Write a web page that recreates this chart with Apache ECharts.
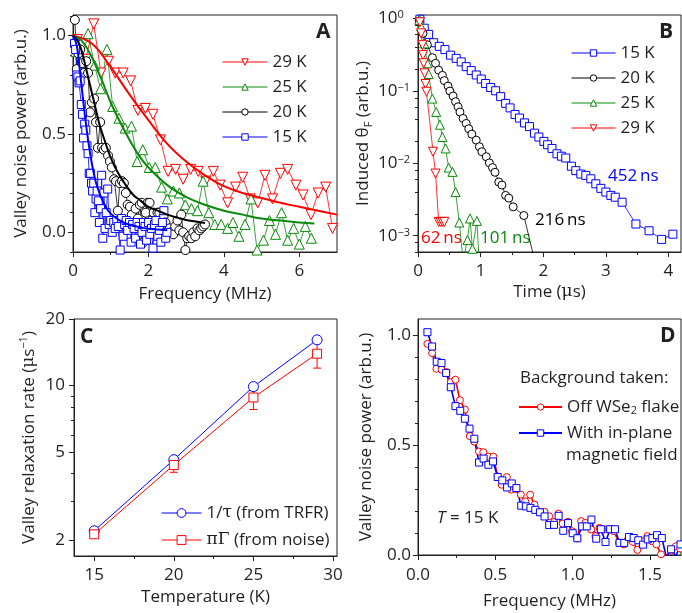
<!DOCTYPE html>
<html><head><meta charset="utf-8">
<script src="https://cdn.jsdelivr.net/npm/echarts@6/dist/echarts.min.js"></script>
<style>html,body{margin:0;padding:0;background:#fff}#c{width:682px;height:613px}</style>
</head><body><div id="c"></div><script>
// ---------- Panel A: valley noise spectra ----------
const A29 = [[0.12,0.98],[0.34,0.88],[0.55,1.06],[0.74,0.81],[0.94,0.87],[1.12,0.81],[1.33,0.81],[1.53,0.77],[1.72,0.62],[1.92,0.63],[2.12,0.60],[2.32,0.47],[2.52,0.31],[2.72,0.32],[2.92,0.27],[3.12,0.32],[3.32,0.31],[3.52,0.26],[3.72,0.31],[3.90,0.24],[4.10,0.15],[4.31,0.23],[4.50,0.28],[4.70,0.17],[4.90,0.15],[5.09,0.29],[5.29,0.17],[5.50,0.30],[5.69,0.32],[5.91,0.24],[6.10,0.19],[6.31,0.09],[6.50,0.20],[6.70,0.23],[6.88,0.02]];
const A25 = [[0.08,0.92],[0.24,0.88],[0.40,1.01],[0.57,0.85],[0.73,0.73],[0.90,0.93],[1.05,0.64],[1.22,0.58],[1.38,0.53],[1.55,0.54],[1.70,0.36],[1.85,0.42],[2.02,0.33],[2.18,0.33],[2.35,0.23],[2.50,0.17],[2.66,0.21],[2.82,0.20],[2.98,0.14],[3.14,0.12],[3.30,0.11],[3.45,0.26],[3.60,0.10],[3.76,0.04],[3.93,0.04],[4.10,0.02],[4.24,0.05],[4.40,-0.02],[4.56,0.04],[4.72,0.17],[4.88,-0.09],[5.05,-0.04],[5.21,0.06],[5.37,-0.01],[5.53,0.10],[5.69,-0.04],[5.85,0.02],[6.00,-0.06],[6.16,0.03],[6.32,-0.03]];
const A20 = [[0.05,1.08],[0.10,0.83],[0.14,0.91],[0.19,0.93],[0.24,0.86],[0.29,0.81],[0.35,0.87],[0.40,0.81],[0.45,0.61],[0.50,0.66],[0.56,0.68],[0.61,0.56],[0.66,0.43],[0.72,0.56],[0.77,0.43],[0.82,0.42],[0.87,0.43],[0.93,0.39],[0.98,0.36],[1.03,0.33],[1.09,0.27],[1.14,0.26],[1.19,0.11],[1.24,0.25],[1.30,0.26],[1.35,0.25],[1.40,0.20],[1.45,0.14],[1.51,0.13],[1.56,0.09],[1.61,0.03],[1.66,0.12],[1.72,0.07],[1.77,0.14],[1.82,0.15],[1.87,-0.05],[1.93,0.10],[1.98,0.15],[2.03,0.15],[2.08,0.06],[2.14,0.10],[2.19,0.04],[2.24,0.10],[2.29,0.10],[2.35,0.03],[2.40,0.08],[2.45,0.05],[2.50,0.00],[2.56,0.02],[2.61,0.00],[2.66,-0.01],[2.71,0.03],[2.77,0.06],[2.82,0.01],[2.87,0.09],[2.92,0.00],[2.98,-0.09],[3.03,-0.03],[3.08,-0.02],[3.14,-0.03],[3.19,0.00],[3.24,-0.02],[3.30,0.02],[3.35,0.01],[3.40,0.02],[3.45,0.03],[3.50,0.04]];
const A15 = [[0.04,0.96],[0.07,0.93],[0.10,0.80],[0.13,0.79],[0.16,0.76],[0.19,0.77],[0.22,0.65],[0.25,0.60],[0.28,0.48],[0.31,0.55],[0.34,0.52],[0.37,0.44],[0.40,0.40],[0.43,0.30],[0.46,0.30],[0.49,0.25],[0.52,0.21],[0.55,0.25],[0.58,0.10],[0.61,0.17],[0.64,0.21],[0.67,0.16],[0.70,0.05],[0.73,0.12],[0.76,0.29],[0.79,-0.03],[0.82,0.20],[0.85,0.02],[0.88,0.10],[0.92,0.22],[0.96,0.04],[1.00,0.06],[1.04,0.00],[1.08,0.05],[1.12,0.02],[1.16,0.06],[1.20,0.03],[1.25,-0.09],[1.29,0.07],[1.33,-0.02],[1.37,0.04],[1.41,0.06],[1.45,0.01],[1.50,0.05],[1.54,-0.05],[1.58,0.04],[1.62,0.02],[1.66,-0.03],[1.70,0.05],[1.75,0.03],[1.79,-0.06],[1.83,0.00],[1.87,0.05],[1.91,0.03],[1.95,-0.04],[2.00,0.05],[2.04,-0.01],[2.08,0.02],[2.12,-0.08],[2.16,0.04],[2.20,0.06],[2.25,-0.02],[2.29,0.01],[2.33,-0.05],[2.37,0.05],[2.41,0.11],[2.46,-0.03],[2.49,0.00]];
const fitA29 = [[0,1.0],[0.5,0.96],[1,0.84],[1.5,0.70],[2,0.57],[2.5,0.45],[3,0.36],[3.5,0.29],[4,0.235],[4.5,0.20],[5,0.175],[5.5,0.15],[6,0.13],[6.5,0.11],[7,0.09]];
const fitA25 = [[0,1.0],[0.25,0.97],[0.5,0.89],[0.75,0.78],[1,0.66],[1.25,0.56],[1.5,0.47],[1.75,0.39],[2,0.33],[2.5,0.24],[3,0.18],[3.5,0.14],[4,0.11],[4.5,0.09],[5,0.07],[5.5,0.06],[6,0.05],[6.4,0.045]];
const fitA20 = [[0,1.0],[0.1,0.98],[0.2,0.94],[0.3,0.87],[0.4,0.79],[0.5,0.71],[0.6,0.63],[0.7,0.55],[0.8,0.49],[1.0,0.38],[1.2,0.30],[1.4,0.24],[1.6,0.19],[1.8,0.16],[2.0,0.13],[2.25,0.11],[2.5,0.09],[2.75,0.075],[3.0,0.063],[3.25,0.055],[3.5,0.047]];
const fitA15 = [[0,1.0],[0.1,0.95],[0.2,0.79],[0.3,0.62],[0.4,0.47],[0.5,0.35],[0.6,0.26],[0.7,0.20],[0.8,0.155],[0.9,0.12],[1.0,0.095],[1.2,0.065],[1.4,0.045],[1.6,0.033],[1.8,0.025],[2.0,0.018],[2.25,0.014],[2.5,0.01]];
// ---------- Panel B: time-resolved Faraday rotation ----------
const B15 = [[0.03,0.97],[0.10,0.73],[0.17,0.60],[0.25,0.46],[0.34,0.41],[0.43,0.37],[0.52,0.31],[0.61,0.28],[0.69,0.25],[0.77,0.215],[0.85,0.19],[0.93,0.165],[1.01,0.145],[1.08,0.126],[1.16,0.111],[1.24,0.10],[1.32,0.083],[1.40,0.067],[1.47,0.058],[1.55,0.047],[1.62,0.042],[1.70,0.036],[1.78,0.032],[1.86,0.026],[1.93,0.023],[2.01,0.020],[2.07,0.018],[2.14,0.016],[2.22,0.0135],[2.29,0.0125],[2.36,0.0118],[2.45,0.0091],[2.52,0.0079],[2.60,0.0071],[2.68,0.0068],[2.76,0.0061],[2.84,0.0052],[2.92,0.0045],[3.00,0.0040],[3.08,0.0036],[3.15,0.0034],[3.26,0.0029],[3.48,0.00145],[3.69,0.00117],[3.89,0.00089],[4.07,0.00105]];
const B20 = [[0.02,0.92],[0.08,0.62],[0.15,0.43],[0.23,0.286],[0.28,0.239],[0.33,0.193],[0.39,0.163],[0.42,0.138],[0.48,0.116],[0.51,0.099],[0.56,0.0845],[0.60,0.0706],[0.64,0.0601],[0.67,0.0508],[0.72,0.0415],[0.77,0.0354],[0.81,0.0299],[0.86,0.0252],[0.93,0.0208],[0.98,0.0169],[1.02,0.0144],[1.09,0.0123],[1.14,0.0101],[1.19,0.0087],[1.23,0.0075],[1.29,0.0055],[1.34,0.0050],[1.40,0.0036],[1.45,0.0033],[1.52,0.0025],[1.69,0.0019],[1.87,0.00043]];
const B25 = [[0.02,0.95],[0.05,0.77],[0.10,0.45],[0.15,0.24],[0.17,0.17],[0.23,0.078],[0.29,0.051],[0.35,0.034],[0.39,0.023],[0.44,0.016],[0.49,0.0087],[0.55,0.0076],[0.60,0.0040],[0.66,0.00152],[0.72,0.00045],[0.79,0.00087],[0.83,0.00173],[0.87,0.00066],[0.94,0.0016],[0.98,0.0004]];
const B29 = [[0.03,0.88],[0.05,0.62],[0.07,0.43],[0.08,0.31],[0.09,0.24],[0.105,0.174],[0.12,0.124],[0.135,0.097],[0.24,0.0144],[0.28,0.0072],[0.33,0.00155],[0.36,0.00155],[0.39,0.00155],[0.42,0.00155]];
// ---------- Panel C: relaxation rates ----------
const C_T = [15, 20, 25, 29];
const C_tau = [2.21, 4.63, 9.90, 16.1];
const C_noise = [2.13, 4.38, 8.84, 13.94];
const C_errLo = [2.06, 4.06, 7.8, 12.0];
const C_errHi = [2.20, 4.72, 9.5, 15.8];
// ---------- Panel D: background comparison ----------
const D_off = [[0.061,0.959],[0.091,0.917],[0.119,0.846],[0.152,0.842],[0.184,0.831],[0.212,0.786],[0.242,0.796],[0.271,0.703],[0.303,0.661],[0.335,0.540],[0.364,0.515],[0.394,0.470],[0.422,0.467],[0.455,0.447],[0.487,0.447],[0.515,0.357],[0.541,0.319],[0.574,0.354],[0.602,0.297],[0.633,0.300],[0.665,0.274],[0.693,0.244],[0.725,0.274],[0.753,0.229],[0.790,0.196],[0.818,0.196],[0.848,0.176],[0.879,0.150],[0.909,0.188],[0.935,0.143],[0.970,0.151],[0.996,0.108],[1.028,0.075],[1.054,0.154],[1.082,0.146],[1.119,0.116],[1.147,0.086],[1.173,0.123],[1.208,0.116],[1.234,0.116],[1.266,0.108],[1.299,0.056],[1.331,0.048],[1.359,0.074],[1.390,0.059],[1.418,0.023],[1.446,0.063],[1.483,0.086],[1.511,0.063],[1.541,0.048],[1.571,0.003],[1.608,-0.005],[1.636,0.020],[1.667,0.040],[1.695,0.029]];
const D_mag = [[0.061,1.012],[0.091,0.947],[0.121,0.878],[0.152,0.872],[0.182,0.827],[0.212,0.762],[0.242,0.676],[0.273,0.655],[0.303,0.619],[0.333,0.574],[0.364,0.528],[0.394,0.420],[0.424,0.438],[0.455,0.410],[0.485,0.425],[0.515,0.354],[0.545,0.339],[0.576,0.307],[0.606,0.325],[0.636,0.304],[0.667,0.224],[0.697,0.221],[0.727,0.214],[0.758,0.205],[0.788,0.194],[0.818,0.175],[0.848,0.136],[0.879,0.137],[0.909,0.178],[0.939,0.110],[0.970,0.145],[1.000,0.099],[1.030,0.076],[1.061,0.130],[1.091,0.130],[1.121,0.161],[1.152,0.074],[1.182,0.117],[1.212,0.059],[1.242,0.117],[1.273,0.117],[1.303,0.055],[1.333,0.055],[1.364,0.082],[1.394,0.077],[1.424,0.067],[1.455,0.047],[1.485,0.071],[1.515,0.077],[1.545,0.090],[1.576,0.077],[1.606,-0.010],[1.636,0.026],[1.667,-0.005],[1.697,0.048]];
// ---------- Tick values ----------
const xA_ticks=[0,2,4,6], xA_minor=[1,3,5];
const yA_ticks=[0,0.5,1.0], yA_minor=[-0.1,0.1,0.2,0.3,0.4,0.6,0.7,0.8,0.9,1.1];
const xB_ticks=[0,1,2,3,4], xB_minor=[0.5,1.5,2.5,3.5];
const yB_ticks=[0.001,0.01,0.1,1], yB_minor=[0.0006,0.0008,0.002,0.004,0.006,0.008,0.02,0.04,0.06,0.08,0.2,0.4,0.6,0.8];
const xC_ticks=[15,20,25,30], xC_minor=[17.5,22.5,27.5];
const yC_ticks=[2,5,10,20], yC_minor=[3,4,6,7,8,9];
const xD_ticks=[0,0.5,1.0,1.5], xD_minor=[0.25,0.75,1.25];
const yD_ticks=[0,0.5,1.0], yD_minor=[0.1,0.2,0.3,0.4,0.6,0.7,0.8,0.9];

const FONT = "'Open Sans', sans-serif";
const TXT = '#231f20';
const RED='#ff0000', GREEN='#0a8a0a', BLACK='#000000', BLUE='#0000ff';
const names = {A29:'29 K',A25:'25 K',A20:'20 K',A15:'15 K',B15:'15 K',B20:'20 K',B25:'25 K',B29:'29 K'};

const chart = echarts.init(document.getElementById('c'), null, {renderer:'canvas'});
const grids = [
  {left:73, top:15, width:264, height:237},
  {left:418, top:15, width:263, height:237},
  {left:74, top:319, width:263, height:237},
  {left:418, top:319, width:263, height:237}
].map(g => Object.assign(g, {show:true, borderColor:'#222', borderWidth:1, backgroundColor:'transparent'}));

const lab = {fontSize:17, fontFamily:FONT, color:TXT};
const rich = {
  sup:{fontSize:11, fontFamily:FONT, color:TXT, verticalAlign:'top', lineHeight:11},
  sub:{fontSize:11, fontFamily:FONT, color:TXT, verticalAlign:'bottom', lineHeight:11},
  g:{fontSize:17, fontFamily:"'DejaVu Serif', serif", color:TXT, lineHeight:22}
};
function majorAxis(dim, gi, type, min, max, ticks, fmt, name, nameGap, margin, extra) {
  const a = {
    type, gridIndex:gi, min, max, position: dim==='x'?'bottom':'left',
    axisLine:{show:true, onZero:false, lineStyle:{color:'#222', width:1}},
    axisTick:{show:true, customValues:ticks, length:5, lineStyle:{color:'#222', width:1}},
    minorTick:{show:false},
    axisLabel:Object.assign({customValues:ticks, formatter:fmt, margin, rich}, lab),
    splitLine:{show:false},
    name, nameLocation:'middle', nameGap,
    nameTextStyle:Object.assign({rich, lineHeight:22}, lab)
  };
  if (type==='log') a.logBase = 10;
  return Object.assign(a, extra||{});
}
function minorAxis(dim, gi, type, min, max, ticks) {
  const a = {
    type, gridIndex:gi, min, max, position: dim==='x'?'bottom':'left',
    axisLine:{show:false, onZero:false},
    axisTick:{show:true, customValues:ticks, length:3, lineStyle:{color:'#222', width:1}},
    axisLabel:{show:false}, splitLine:{show:false}
  };
  if (type==='log') a.logBase = 10;
  return a;
}
const f1 = v => v.toFixed(1);
const f0 = v => String(Math.round(v));
const fpow = v => { const e = Math.round(Math.log10(v)); return '10{sup|' + (e===0 ? '0' : '\u2212' + (-e)) + '}'; };

const xAxis = [
  majorAxis('x',0,'value',0,7,xA_ticks,f0,'Frequency (MHz)',31,11),
  majorAxis('x',1,'value',0,4.2,xB_ticks,f0,'Time ({g|\u03bc}s)',28,11),
  majorAxis('x',2,'value',13.73,30.25,xC_ticks,f0,'Temperature (K)',30,11),
  majorAxis('x',3,'value',0,1.7,xD_ticks,f1,'Frequency (MHz)',35,12),
  minorAxis('x',0,'value',0,7,xA_minor),
  minorAxis('x',1,'value',0,4.2,xB_minor),
  minorAxis('x',2,'value',13.73,30.25,xC_minor),
  minorAxis('x',3,'value',0,1.7,xD_minor)
];
const yAxis = [
  majorAxis('y',0,'value',-0.1,1.105,yA_ticks,f1,'Valley noise power (arb.u.)',41,7),
  majorAxis('y',1,'log',0.000596,1.11,yB_ticks,fpow,'Induced \u03b8{sub|F} (arb.u.)',40,40,{axisLabel:Object.assign({customValues:yB_ticks, formatter:fpow, margin:40, align:'left', rich:{sup:{fontSize:11,fontFamily:FONT,color:TXT,verticalAlign:'top',lineHeight:11}}}, lab)}),
  majorAxis('y',2,'log',1.70,20,yC_ticks,f0,'Valley relaxation rate ({g|\u03bc}s{sup|\u22121})',34,9),
  majorAxis('y',3,'value',0,1.072,yD_ticks,f1,'Valley noise power (arb.u.)',41,7),
  minorAxis('y',0,'value',-0.1,1.105,yA_minor),
  minorAxis('y',1,'log',0.000596,1.11,yB_minor),
  minorAxis('y',2,'log',1.70,20,yC_minor),
  minorAxis('y',3,'value',0,1.072,yD_minor)
];

function dataSeries(name, gi, data, color, symbol, size, rot, lw) {
  return {
    name, type:'line', xAxisIndex:gi, yAxisIndex:gi, data,
    symbol, symbolSize:size, symbolRotate:rot||0, showAllSymbol:true,
    itemStyle:{color:'#fff', borderColor:color, borderWidth:1},
    lineStyle:{color, width:lw||0.8}, emphasis:{disabled:true}, animation:false, clip:true
  };
}
function fitSeries(name, data, color) {
  return {name, type:'line', xAxisIndex:0, yAxisIndex:0, data, symbol:'none', smooth:0.4,
    lineStyle:{color, width:2}, emphasis:{disabled:true}, animation:false, z:4};
}

const series = [
  dataSeries('A29',0,A29,RED,'triangle',10,180),
  dataSeries('A25',0,A25,GREEN,'triangle',10,0),
  dataSeries('A20',0,A20,BLACK,'circle',9,0),
  dataSeries('A15',0,A15,BLUE,'rect',8,0),
  fitSeries('fit29',fitA29,RED), fitSeries('fit25',fitA25,GREEN),
  fitSeries('fit20',fitA20,BLACK), fitSeries('fit15',fitA15,BLUE),
  dataSeries('B15',1,B15,BLUE,'rect',8,0),
  dataSeries('B20',1,B20,BLACK,'circle',8,0),
  dataSeries('B25',1,B25,GREEN,'triangle',9,0),
  dataSeries('B29',1,B29,RED,'triangle',9,180),
  {name:'Cerr', type:'custom', xAxisIndex:2, yAxisIndex:2, z:1,
   data: C_T.map((t,i)=>[t, C_errLo[i], C_errHi[i]]),
   encode:{x:0, y:[1,2]},
   renderItem:(params, api)=>{
     const x=api.value(0), lo=api.coord([x, api.value(1)]), hi=api.coord([x, api.value(2)]);
     const st={stroke:RED, lineWidth:1}, w=4;
     return {type:'group', children:[
       {type:'line', shape:{x1:lo[0],y1:lo[1],x2:hi[0],y2:hi[1]}, style:st},
       {type:'line', shape:{x1:lo[0]-w,y1:lo[1],x2:lo[0]+w,y2:lo[1]}, style:st},
       {type:'line', shape:{x1:hi[0]-w,y1:hi[1],x2:hi[0]+w,y2:hi[1]}, style:st}]};
   }},
  dataSeries('Ctau',2,C_T.map((t,i)=>[t,C_tau[i]]),BLUE,'circle',10,0,1),
  dataSeries('Cnoise',2,C_T.map((t,i)=>[t,C_noise[i]]),RED,'rect',9,0,1),
  dataSeries('Doff',3,D_off,RED,'circle',7,0,1.6),
  dataSeries('Dmag',3,D_mag,BLUE,'rect',7,0,1.6)
];

const legendText = Object.assign({}, lab, {lineHeight:18, rich:Object.assign({}, rich, {g:{fontSize:17, fontFamily:"'DejaVu Serif', serif", color:TXT, lineHeight:18}, sub:{fontSize:11, fontFamily:FONT, color:TXT, verticalAlign:'bottom', lineHeight:9}})});
const cNames = {Ctau:'1/{g|\u03c4} (from TRFR)', Cnoise:'{g|\u03c0\u0393} (from noise)', Doff:'Off WSe{sub|2} flake', Dmag:'With in-plane'};
const fmtLegend = n => names[n] || cNames[n] || n;
function legend(data, left, top, itemWidth, itemHeight, itemGap, lw) {
  return {data, left, top, orient:'vertical', itemWidth, itemHeight, itemGap, selectedMode:false,
    formatter:fmtLegend, textStyle:legendText, padding:0,
    lineStyle:{width:lw}, itemStyle:{borderWidth:1}};
}

const gtext = (text, left, top, extra) => ({type:'text', left, top, silent:true,
  style:Object.assign({text, fill:TXT, font:"17px 'Open Sans', sans-serif"}, extra||{})});

chart.setOption({
  animation:false,
  backgroundColor:'#fff',
  grid:grids, xAxis, yAxis, series,
  legend:[
    legend(['A29','A25','A20','A15'], 222, 53, 45, 8, 7, 1),
    legend(['B15','B20','B25','B29'], 571, 44, 44, 8, 7, 1),
    legend(['Ctau','Cnoise'], 161, 504, 40, 11, 9, 1),
    legend(['Doff','Dmag'], 518, 398, 43, 8, 8, 2)
  ],
  graphic:[
    gtext('A', 316, 22, {font:"bold 21px 'Open Sans', sans-serif"}),
    gtext('B', 659, 22, {font:"bold 21px 'Open Sans', sans-serif"}),
    gtext('C', 80, 327, {font:"bold 21px 'Open Sans', sans-serif"}),
    gtext('D', 660, 326, {font:"bold 21px 'Open Sans', sans-serif"}),
    gtext('452\u2009ns', 608, 168, {fill:BLUE}),
    gtext('216\u2009ns', 535, 212, {fill:BLACK}),
    gtext('62\u2009ns', 421, 230, {fill:RED}),
    gtext('101\u2009ns', 480, 230, {fill:GREEN}),
    gtext('Background taken:', 520, 370),
    gtext('magnetic field', 566, 447),
    {type:'text', left:437, top:510, silent:true, style:{text:'{i|T} = 15 K', fill:TXT, font:"17px 'Open Sans', sans-serif",
      rich:{i:{fontStyle:'italic', fontSize:17, fontFamily:FONT, fill:TXT}}}}
  ]
});
</script></body></html>
